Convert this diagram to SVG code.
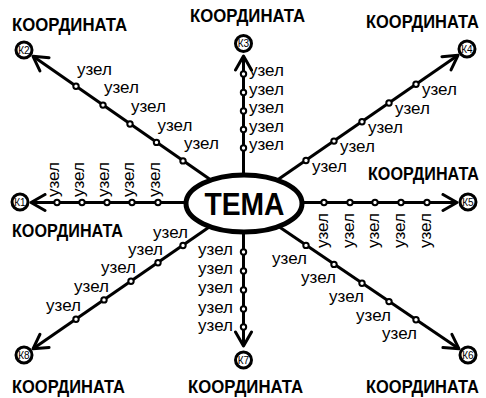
<svg xmlns="http://www.w3.org/2000/svg" width="486" height="398" viewBox="0 0 486 398">
<style>
.ln{stroke:#000;stroke-width:3;fill:none}
.nd{fill:#fff;stroke:#000;stroke-width:2}
.u{font-family:"Liberation Sans",Arial,sans-serif;font-size:17px;fill:#000}
.e{text-anchor:end}
.k{font-family:"Liberation Sans",Arial,sans-serif;font-weight:bold;font-size:19px;fill:#000}
.kc{fill:#fff;stroke:#000;stroke-width:3}
.kt{font-family:"Liberation Sans",Arial,sans-serif;font-size:10px;text-anchor:middle;fill:#000}
</style>
<defs>
<marker id="arr" viewBox="0 0 20 20" refX="16" refY="10" markerWidth="20" markerHeight="20" markerUnits="userSpaceOnUse" orient="auto">
<path d="M2,2 L16,10 L2,18" fill="none" stroke="#000" stroke-width="3" stroke-linejoin="round" stroke-linecap="round"/>
</marker>
</defs>
<rect width="486" height="398" fill="#fff"/>
<g id="connectors" class="ln" marker-end="url(#arr)">
<line x1="244" y1="202.5" x2="31" y2="202.5"/>
<line x1="244" y1="202.5" x2="457" y2="202.5"/>
<line x1="243.5" y1="203" x2="243.5" y2="56"/>
<line x1="243.5" y1="203" x2="243.5" y2="346"/>
<line x1="244" y1="203" x2="33" y2="56.3"/>
<line x1="244" y1="203" x2="458" y2="55.3"/>
<line x1="244" y1="203" x2="33" y2="348.8"/>
<line x1="244" y1="203" x2="459" y2="348.8"/>
</g>
<g id="tema">
<ellipse cx="244" cy="203.5" rx="58" ry="28.5" fill="#fff" stroke="#000" stroke-width="5"/>
<text x="244.5" y="215" font-family="Liberation Sans,Arial,sans-serif" font-weight="bold" font-size="32" text-anchor="middle" textLength="80" lengthAdjust="spacingAndGlyphs">ТЕМА</text>
</g>
<g id="k1"><circle class="kc" cx="20" cy="202" r="8"/><text class="kt" x="20" y="205.5">К1</text><text class="k" transform="translate(12,237) scale(0.83,1)" textLength="133.7" lengthAdjust="spacingAndGlyphs">КООРДИНАТА</text></g>
<g id="k2"><circle class="kc" cx="24" cy="50" r="8"/><text class="kt" x="24" y="53.5">К2</text><text class="k" transform="translate(12,30.5) scale(0.83,1)" textLength="138.6" lengthAdjust="spacingAndGlyphs">КООРДИНАТА</text></g>
<g id="k3"><circle class="kc" cx="243.5" cy="43.5" r="8"/><text class="kt" x="243.5" y="47">К3</text><text class="k" transform="translate(190,22) scale(0.83,1)" textLength="138.6" lengthAdjust="spacingAndGlyphs">КООРДИНАТА</text></g>
<g id="k4"><circle class="kc" cx="467" cy="49" r="8"/><text class="kt" x="467" y="52.5">К4</text><text class="k" transform="translate(366,28) scale(0.83,1)" textLength="136.1" lengthAdjust="spacingAndGlyphs">КООРДИНАТА</text></g>
<g id="k5"><circle class="kc" cx="468" cy="202" r="8"/><text class="kt" x="468" y="205.5">К5</text><text class="k" transform="translate(368,180) scale(0.83,1)" textLength="133.7" lengthAdjust="spacingAndGlyphs">КООРДИНАТА</text></g>
<g id="k6"><circle class="kc" cx="468" cy="355" r="8"/><text class="kt" x="468" y="358.5">К6</text><text class="k" transform="translate(366,393) scale(0.83,1)" textLength="136.1" lengthAdjust="spacingAndGlyphs">КООРДИНАТА</text></g>
<g id="k7"><circle class="kc" cx="243.5" cy="360" r="8"/><text class="kt" x="243.5" y="363.5">К7</text><text class="k" transform="translate(188,393) scale(0.83,1)" textLength="138.6" lengthAdjust="spacingAndGlyphs">КООРДИНАТА</text></g>
<g id="k8"><circle class="kc" cx="24" cy="355" r="8"/><text class="kt" x="24" y="358.5">К8</text><text class="k" transform="translate(12,393) scale(0.83,1)" textLength="136.1" lengthAdjust="spacingAndGlyphs">КООРДИНАТА</text></g>
<g id="n2-1"><circle class="nd" cx="183" cy="160.9" r="2.7"/><text class="u" x="184" y="149">узел</text></g>
<g id="n2-2"><circle class="nd" cx="156.5" cy="142.4" r="2.7"/><text class="u" x="157.5" y="130.5">узел</text></g>
<g id="n2-3"><circle class="nd" cx="130" cy="124" r="2.7"/><text class="u" x="131" y="112">узел</text></g>
<g id="n2-4"><circle class="nd" cx="103" cy="105.1" r="2.7"/><text class="u" x="104" y="93">узел</text></g>
<g id="n2-5"><circle class="nd" cx="76" cy="86.3" r="2.7"/><text class="u" x="77" y="74.5">узел</text></g>
<g id="n4-1"><circle class="nd" cx="306" cy="160.5" r="2.7"/><text class="u" x="312" y="171.5">узел</text></g>
<g id="n4-2"><circle class="nd" cx="334" cy="141.1" r="2.7"/><text class="u" x="340" y="152">узел</text></g>
<g id="n4-3"><circle class="nd" cx="362" cy="121.7" r="2.7"/><text class="u" x="368" y="132.7">узел</text></g>
<g id="n4-4"><circle class="nd" cx="389" cy="103" r="2.7"/><text class="u" x="395" y="114">узел</text></g>
<g id="n4-5"><circle class="nd" cx="416" cy="84.3" r="2.7"/><text class="u" x="422" y="95.3">узел</text></g>
<g id="n8-1"><circle class="nd" cx="183" cy="245.5" r="2.7"/><text class="u e" x="188" y="237.5">узел</text></g>
<g id="n8-2"><circle class="nd" cx="158" cy="262.7" r="2.7"/><text class="u e" x="163" y="254.7">узел</text></g>
<g id="n8-3"><circle class="nd" cx="131" cy="281.3" r="2.7"/><text class="u e" x="136" y="273.3">узел</text></g>
<g id="n8-4"><circle class="nd" cx="104" cy="299.9" r="2.7"/><text class="u e" x="109" y="291.9">узел</text></g>
<g id="n8-5"><circle class="nd" cx="76" cy="319.2" r="2.7"/><text class="u e" x="81" y="311.2">узел</text></g>
<g id="n6-1"><circle class="nd" cx="306" cy="245.4" r="2.7"/><text class="u e" x="307" y="264.4">узел</text></g>
<g id="n6-2"><circle class="nd" cx="334" cy="264.4" r="2.7"/><text class="u e" x="336" y="283.4">узел</text></g>
<g id="n6-3"><circle class="nd" cx="362" cy="283.3" r="2.7"/><text class="u e" x="364" y="302.3">узел</text></g>
<g id="n6-4"><circle class="nd" cx="389" cy="301.6" r="2.7"/><text class="u e" x="391" y="320.6">узел</text></g>
<g id="n6-5"><circle class="nd" cx="416" cy="319.8" r="2.7"/><text class="u e" x="417" y="338.8">узел</text></g>
<g id="n3-1"><circle class="nd" cx="243.5" cy="148" r="2.7"/><text class="u" x="249" y="150">узел</text></g>
<g id="n3-2"><circle class="nd" cx="243.5" cy="129.5" r="2.7"/><text class="u" x="249" y="131.5">узел</text></g>
<g id="n3-3"><circle class="nd" cx="243.5" cy="111" r="2.7"/><text class="u" x="249" y="113">узел</text></g>
<g id="n3-4"><circle class="nd" cx="243.5" cy="92.5" r="2.7"/><text class="u" x="249" y="94.5">узел</text></g>
<g id="n3-5"><circle class="nd" cx="243.5" cy="74" r="2.7"/><text class="u" x="249" y="76">узел</text></g>
<g id="n7-1"><circle class="nd" cx="243.5" cy="252" r="2.7"/><text class="u e" x="233" y="254.5">узел</text></g>
<g id="n7-2"><circle class="nd" cx="243.5" cy="271" r="2.7"/><text class="u e" x="233" y="273.5">узел</text></g>
<g id="n7-3"><circle class="nd" cx="243.5" cy="290" r="2.7"/><text class="u e" x="233" y="292.5">узел</text></g>
<g id="n7-4"><circle class="nd" cx="243.5" cy="309" r="2.7"/><text class="u e" x="233" y="312.5">узел</text></g>
<g id="n7-5"><circle class="nd" cx="243.5" cy="327" r="2.7"/><text class="u e" x="233" y="330.5">узел</text></g>
<g id="n1-1"><circle class="nd" cx="158" cy="202.5" r="2.7"/><text class="u" transform="translate(159.5,197) rotate(-90)">узел</text></g>
<g id="n1-2"><circle class="nd" cx="132" cy="202.5" r="2.7"/><text class="u" transform="translate(133.5,197) rotate(-90)">узел</text></g>
<g id="n1-3"><circle class="nd" cx="107" cy="202.5" r="2.7"/><text class="u" transform="translate(108.5,197) rotate(-90)">узел</text></g>
<g id="n1-4"><circle class="nd" cx="82" cy="202.5" r="2.7"/><text class="u" transform="translate(83.5,197) rotate(-90)">узел</text></g>
<g id="n1-5"><circle class="nd" cx="57" cy="202.5" r="2.7"/><text class="u" transform="translate(58.5,197) rotate(-90)">узел</text></g>
<g id="n5-1"><circle class="nd" cx="324" cy="202.5" r="2.7"/><text class="u" transform="translate(328,248) rotate(-90)">узел</text></g>
<g id="n5-2"><circle class="nd" cx="350" cy="202.5" r="2.7"/><text class="u" transform="translate(354,248) rotate(-90)">узел</text></g>
<g id="n5-3"><circle class="nd" cx="375" cy="202.5" r="2.7"/><text class="u" transform="translate(379,248) rotate(-90)">узел</text></g>
<g id="n5-4"><circle class="nd" cx="401" cy="202.5" r="2.7"/><text class="u" transform="translate(405,248) rotate(-90)">узел</text></g>
<g id="n5-5"><circle class="nd" cx="427" cy="202.5" r="2.7"/><text class="u" transform="translate(431,248) rotate(-90)">узел</text></g>
</svg>
